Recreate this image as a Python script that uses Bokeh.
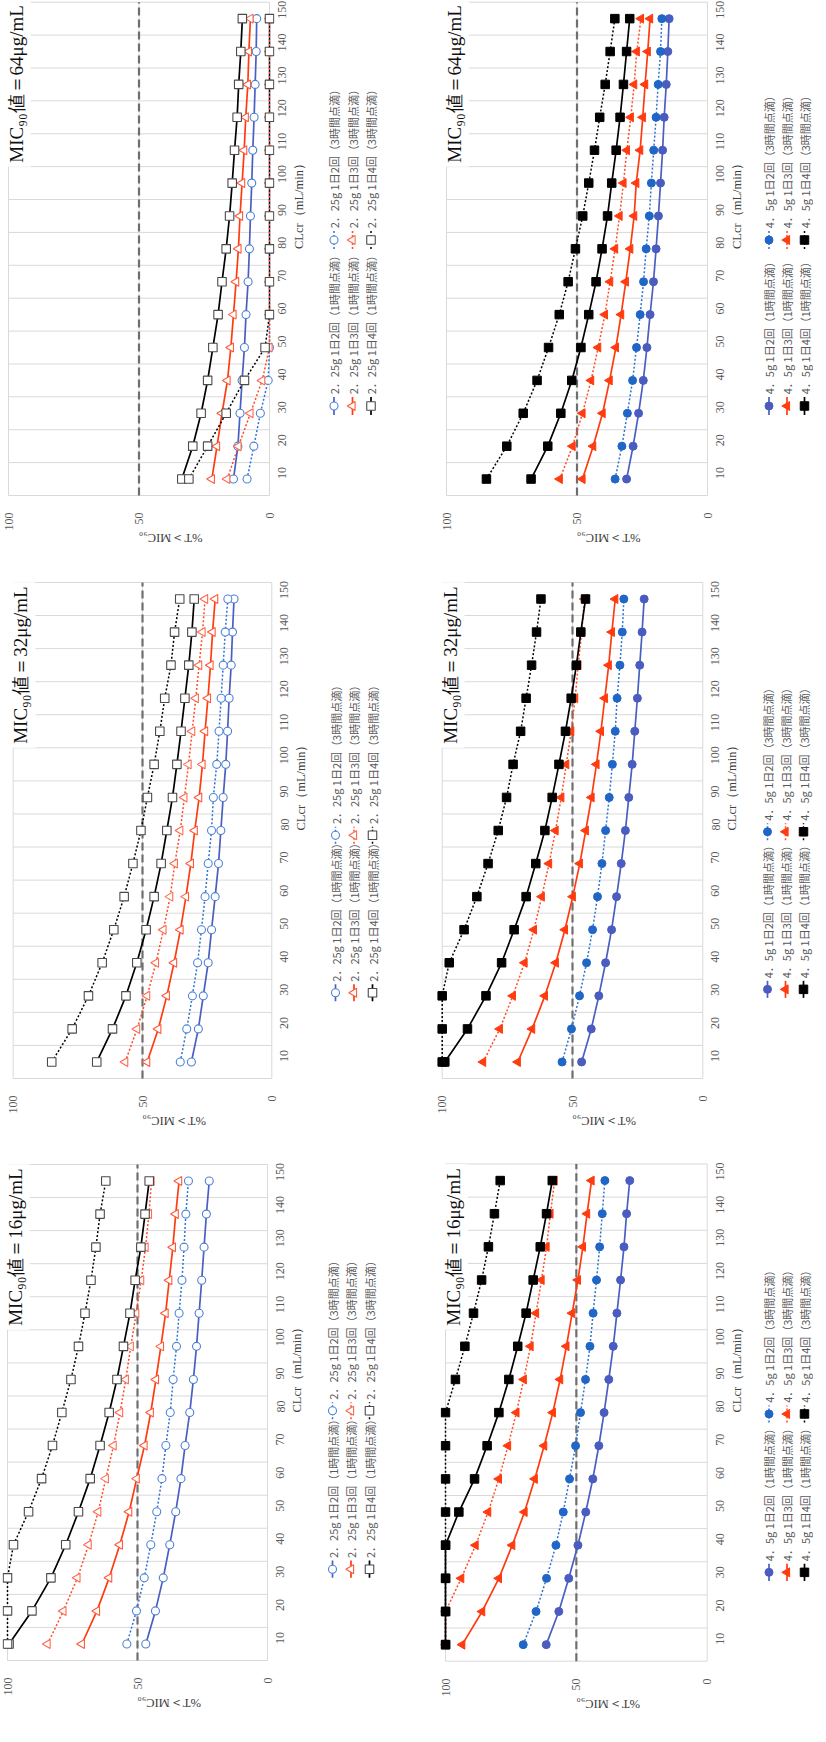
import math
from bokeh.plotting import figure
from bokeh.models import Range1d, FixedTicker, Label
from bokeh.layouts import row, column
from bokeh.core.properties import value
from bokeh.embed import file_html
from bokeh.resources import INLINE

# ---------------- data ----------------
clcr = [10, 20, 30, 40, 50, 60, 70, 80, 90, 100, 110, 120, 130, 140, 150]
clcr_edges = [5, 15, 25, 35, 45, 55, 65, 75, 85, 95, 105, 115, 125, 135, 145, 155]
pct_ticks = [0, 50, 100]
target_pct = 50

# MIC90 = 64 ug/mL, 2.25 g
mic64_225_bid_1h = [13.8, 12.1, 11.3, 10.5, 9.6, 9.0, 8.2, 7.7, 7.3, 6.8, 6.4, 5.9, 5.5, 5.1, 4.9]
mic64_225_bid_3h = [8.6, 6.0, 3.5, 0.5, 0, 0, 0, 0, 0, 0, 0, 0, 0, 0, 0]
mic64_225_tid_1h = [22.1, 20.1, 18.2, 16.1, 14.8, 13.8, 12.8, 11.9, 11.3, 10.5, 9.7, 9.1, 8.3, 7.9, 7.3]
mic64_225_tid_3h = [16.2, 11.9, 7.3, 2.8, 0, 0, 0, 0, 0, 0, 0, 0, 0, 0, 0]
mic64_225_qid_1h = [33.6, 29.4, 26.2, 23.7, 21.7, 19.7, 18.2, 16.6, 15.3, 14.3, 13.4, 12.4, 11.8, 11.0, 10.4]
mic64_225_qid_3h = [30.9, 23.7, 16.6, 9.6, 1.7, 0, 0, 0, 0, 0, 0, 0, 0, 0, 0]

# MIC90 = 64 ug/mL, 4.5 g
mic64_45_bid_1h = [31.0, 28.5, 26.4, 24.6, 23.2, 22.0, 20.7, 19.7, 18.8, 18.0, 17.2, 16.6, 15.8, 15.2, 14.7]
mic64_45_bid_3h = [35.4, 32.8, 30.7, 28.7, 27.2, 25.8, 24.5, 23.5, 22.3, 21.5, 20.6, 19.7, 18.9, 18.0, 17.5]
mic64_45_tid_1h = [47.9, 43.8, 40.2, 37.5, 35.1, 33.1, 31.3, 29.6, 28.1, 27.3, 25.8, 24.8, 23.9, 22.9, 22.0]
mic64_45_tid_3h = [56.6, 51.7, 47.9, 44.6, 41.9, 39.3, 37.3, 35.4, 33.7, 32.2, 30.9, 29.4, 28.1, 27.1, 25.5]
mic64_45_qid_1h = [67.6, 61.2, 56.2, 52.0, 48.5, 45.5, 42.7, 40.4, 38.3, 36.7, 35.0, 33.5, 32.2, 31.0, 29.8]
mic64_45_qid_3h = [84.7, 76.9, 70.6, 65.3, 60.9, 56.8, 53.4, 50.6, 47.8, 45.5, 43.3, 41.3, 39.2, 37.3, 35.5]

# MIC90 = 32 ug/mL, 2.25 g
mic32_225_bid_1h = [31.1, 28.4, 26.5, 24.6, 23.3, 21.9, 20.6, 19.7, 18.8, 17.8, 17.1, 16.5, 15.7, 15.2, 14.6]
mic32_225_bid_3h = [35.4, 32.9, 30.7, 28.7, 27.2, 25.8, 24.6, 23.3, 22.6, 21.3, 20.4, 19.6, 18.8, 18.0, 17.0]
mic32_225_tid_1h = [48.2, 43.9, 40.6, 37.8, 35.3, 33.2, 31.3, 29.8, 28.1, 26.8, 25.8, 24.7, 23.7, 22.9, 21.9]
mic32_225_tid_3h = [56.7, 52.1, 48.2, 44.8, 41.9, 39.3, 37.5, 35.4, 33.8, 32.2, 30.8, 29.4, 28.1, 26.8, 25.8]
mic32_225_qid_1h = [67.7, 61.6, 56.4, 52.2, 48.6, 45.5, 42.8, 40.6, 38.4, 36.7, 35.1, 33.6, 32.1, 30.9, 30.0]
mic32_225_qid_3h = [85.1, 77.2, 70.9, 65.6, 61.1, 57.1, 53.7, 50.6, 48.1, 45.5, 43.3, 41.4, 39.0, 37.6, 35.6]

# MIC90 = 32 ug/mL, 4.5 g
mic32_45_bid_1h = [46.5, 42.8, 39.9, 37.3, 35.0, 33.1, 31.3, 29.7, 28.4, 27.1, 26.1, 25.1, 24.2, 23.3, 22.5]
mic32_45_bid_3h = [54.0, 50.4, 47.3, 44.6, 42.3, 40.4, 38.7, 37.3, 35.9, 34.7, 33.6, 32.9, 31.8, 30.9, 30.3]
mic32_45_tid_1h = [71.0, 65.5, 60.6, 56.4, 52.9, 49.9, 47.2, 44.9, 42.7, 40.8, 39.1, 37.6, 36.1, 34.9, 33.6]
mic32_45_tid_3h = [84.3, 77.9, 72.9, 68.4, 64.8, 61.8, 59.0, 56.5, 54.3, 52.4, 50.5, 49.0, 47.8, 46.5, 45.4]
mic32_45_qid_1h = [99.0, 90.3, 83.2, 77.2, 72.4, 67.8, 64.1, 60.6, 57.8, 55.2, 52.7, 50.5, 48.5, 46.8, 45.0]
mic32_45_qid_3h = [100, 100, 100, 97.3, 91.6, 86.7, 82.4, 78.5, 75.3, 72.8, 69.9, 67.8, 65.7, 63.8, 62.1]

# MIC90 = 16 ug/mL, 2.25 g
mic16_225_bid_1h = [46.8, 43.1, 40.1, 37.6, 35.3, 33.3, 31.7, 29.9, 28.5, 27.3, 26.3, 25.3, 24.4, 23.5, 22.4]
mic16_225_bid_3h = [54.1, 50.4, 47.4, 44.9, 42.6, 40.6, 39.1, 37.4, 36.3, 35.0, 34.0, 32.9, 32.1, 31.4, 30.4]
mic16_225_tid_1h = [71.4, 65.6, 60.9, 56.8, 53.2, 50.3, 47.3, 44.9, 42.9, 41.0, 39.2, 37.8, 36.4, 35.3, 34.0]
mic16_225_tid_3h = [84.6, 78.5, 73.1, 68.8, 65.1, 62.2, 59.2, 56.7, 54.5, 52.6, 50.5, 48.6, 46.9, 45.6, 44.6]
mic16_225_qid_1h = [99.4, 90.6, 83.3, 77.6, 72.7, 68.2, 64.4, 60.9, 57.9, 55.4, 52.9, 50.9, 48.7, 47.1, 45.5]
mic16_225_qid_3h = [100, 100, 100, 97.7, 91.9, 86.9, 82.7, 79.1, 75.6, 72.7, 70.2, 67.9, 66.0, 64.4, 62.2]

# MIC90 = 16 ug/mL, 4.5 g
mic16_45_bid_1h = [61.5, 56.7, 52.9, 49.4, 46.4, 43.7, 41.4, 39.4, 37.6, 35.9, 34.5, 33.1, 31.8, 30.8, 29.6]
mic16_45_bid_3h = [70.3, 65.4, 61.4, 57.8, 55.0, 52.6, 50.3, 48.4, 46.5, 44.8, 43.6, 42.3, 41.1, 40.1, 39.1]
mic16_45_tid_1h = [93.6, 86.0, 79.6, 74.5, 69.8, 65.9, 62.3, 59.0, 56.2, 53.8, 51.6, 49.4, 47.5, 45.9, 44.2]
mic16_45_tid_3h = [100, 100, 94.0, 88.5, 83.7, 79.6, 76.1, 72.9, 70.1, 67.5, 65.4, 63.3, 61.4, 59.9, 58.3]
mic16_45_qid_1h = [100, 100, 100, 100, 94.9, 88.9, 84.1, 79.6, 75.8, 72.4, 69.2, 66.5, 63.8, 61.4, 59.2]
mic16_45_qid_3h = [100, 100, 100, 100, 100, 100, 100, 100, 96.2, 92.6, 89.3, 86.2, 83.6, 81.3, 79.1]

# ---------------- styles ----------------
SERIF = "Liberation Serif"
CJK = "Noto Sans CJK JP"
GRID = "#d9d9d9"
TICK_GRAY = "#595959"

SERIES_ORDER = ["bid_1h", "bid_3h", "tid_1h", "tid_3h", "qid_1h", "qid_3h"]
STYLE = {
    "bid_1h": dict(line="#4a5fc1", dash="solid", marker="circle", fill="#4a5cc0", hline="#4f7fd3", size=8, angle=0),
    "bid_3h": dict(line="#2e72d2", dash="2 2", marker="circle", fill="#1f66c6", hline="#4f86d8", size=8, angle=0),
    "tid_1h": dict(line="#ff3b0f", dash="solid", marker="triangle", fill="#ff3b0f", hline="#ff5a3a", size=9, angle=math.pi / 2),
    "tid_3h": dict(line="#ff4b28", dash="2 2", marker="triangle", fill="#ff3b0f", hline="#ff6a50", size=9, angle=math.pi / 2),
    "qid_1h": dict(line="#000000", dash="solid", marker="square", fill="#000000", hline="#4a4a4a", size=8.5, angle=0),
    "qid_3h": dict(line="#000000", dash="2 2", marker="square", fill="#000000", hline="#4a4a4a", size=8.5, angle=0),
}
TIMES = {"bid": "2", "tid": "3", "qid": "4"}
HOURS = {"1h": "1", "3h": "3"}

PANELS = [
    dict(mic=64, dose="2．25g", hollow=True, pa=(16, 277, 9.7, 504), cols=(341.5, 360, 378.5),
         data=dict(bid_1h=mic64_225_bid_1h, bid_3h=mic64_225_bid_3h, tid_1h=mic64_225_tid_1h,
                   tid_3h=mic64_225_tid_3h, qid_1h=mic64_225_qid_1h, qid_3h=mic64_225_qid_3h)),
    dict(mic=64, dose="4．5g", hollow=False, pa=(454, 715, 9.7, 504), cols=(776.5, 794.5, 812),
         data=dict(bid_1h=mic64_45_bid_1h, bid_3h=mic64_45_bid_3h, tid_1h=mic64_45_tid_1h,
                   tid_3h=mic64_45_tid_3h, qid_1h=mic64_45_qid_1h, qid_3h=mic64_45_qid_3h)),
    dict(mic=32, dose="2．25g", hollow=True, pa=(20.7, 279.3, 590, 1090), cols=(343, 361.5, 380),
         data=dict(bid_1h=mic32_225_bid_1h, bid_3h=mic32_225_bid_3h, tid_1h=mic32_225_tid_1h,
                   tid_3h=mic32_225_tid_3h, qid_1h=mic32_225_qid_1h, qid_3h=mic32_225_qid_3h)),
    dict(mic=32, dose="4．5g", hollow=False, pa=(449.7, 710.3, 586, 1086), cols=(775, 793, 811),
         data=dict(bid_1h=mic32_45_bid_1h, bid_3h=mic32_45_bid_3h, tid_1h=mic32_45_tid_1h,
                   tid_3h=mic32_45_tid_3h, qid_1h=mic32_45_qid_1h, qid_3h=mic32_45_qid_3h)),
    dict(mic=16, dose="2．25g", hollow=True, pa=(15, 275, 1167, 1668), cols=(340, 358.5, 377),
         data=dict(bid_1h=mic16_225_bid_1h, bid_3h=mic16_225_bid_3h, tid_1h=mic16_225_tid_1h,
                   tid_3h=mic16_225_tid_3h, qid_1h=mic16_225_qid_1h, qid_3h=mic16_225_qid_3h)),
    dict(mic=16, dose="4．5g", hollow=False, pa=(453, 714.7, 1171.5, 1671.7), cols=(776.5, 794.5, 812),
         data=dict(bid_1h=mic16_45_bid_1h, bid_3h=mic16_45_bid_3h, tid_1h=mic16_45_tid_1h,
                   tid_3h=mic16_45_tid_3h, qid_1h=mic16_45_qid_1h, qid_3h=mic16_45_qid_3h)),
]

ROWS = [(8, 562), (562, 1149), (1149, 1733)]
PAGE_LEFT, PAGE_RIGHT = 8, 821


def marker_kwargs(st, hollow):
    if hollow:
        return dict(fill_color="white", line_color=st["hline"], line_width=1.1)
    return dict(fill_color=st["fill"], line_color=st["fill"], line_width=1)


def build_main(spec, fig_left, fig_right, row_top, row_bottom):
    x0, x1, y0, y1 = spec["pa"]
    ux = (x1 - x0) / 100.0
    uy = (y1 - y0) / 150.0
    fl = int(round(x0 - 2 * ux))
    fr = int(round(x1 + 2 * ux))
    ft = max(row_top, int(round(y0 - 0.5 * uy)))
    fb = int(round(y1 + 0.5 * uy))
    xr = Range1d(100 + (x0 - fl) / ux, -(fr - x1) / ux)
    yr = Range1d(5 - (fb - y1) / uy, 155 + (y0 - ft) / uy)
    p = figure(width=fig_right - fig_left, height=row_bottom - row_top, x_range=xr, y_range=yr,
               output_backend="svg", toolbar_location=None, y_axis_location="right", title=None,
               min_border_left=fl - fig_left, min_border_right=fig_right - fr,
               min_border_top=ft - row_top, min_border_bottom=row_bottom - fb)
    p.outline_line_color = None
    p.xgrid.visible = False
    p.ygrid.visible = False

    lo, hi = clcr_edges[0], clcr_edges[-1]
    # category grid lines (between CLcr categories) and value grid lines
    p.segment(x0=[pct_ticks[-1]] * len(clcr_edges), y0=clcr_edges,
              x1=[pct_ticks[0]] * len(clcr_edges), y1=clcr_edges, line_color=GRID, line_width=1)
    p.segment(x0=pct_ticks, y0=[lo] * len(pct_ticks), x1=pct_ticks, y1=[hi] * len(pct_ticks),
              line_color=GRID, line_width=1)
    # target line
    p.segment(x0=[target_pct], y0=[lo], x1=[target_pct], y1=[hi],
              line_color="#6e6e6e", line_width=2.2, line_dash="8 4")

    for key in SERIES_ORDER:
        st = STYLE[key]
        vals = spec["data"][key]
        p.line(vals, clcr, line_color=st["line"], line_width=1.7 if st["dash"] == "solid" else 1.5,
               line_dash=st["dash"])
        p.scatter(vals, clcr, marker=st["marker"], size=st["size"], angle=st["angle"],
                  **marker_kwargs(st, spec["hollow"]))

    xa = p.xaxis[0]
    ya = p.yaxis[0]
    for ax in (xa, ya):
        ax.axis_line_color = None
        ax.major_tick_line_color = None
        ax.minor_tick_line_color = None
        ax.major_tick_out = 0
        ax.major_tick_in = 0
        ax.minor_tick_out = 0
        ax.minor_tick_in = 0
        ax.major_label_text_font = SERIF
        ax.major_label_text_font_size = "12px"
        ax.major_label_text_color = TICK_GRAY
        ax.axis_label_text_font = SERIF
        ax.axis_label_text_font_size = "12.5px"
        ax.axis_label_text_font_style = "normal"
        ax.axis_label_text_color = "#404040"
        ax.major_label_orientation = math.pi / 2
    xa.ticker = FixedTicker(ticks=pct_ticks)
    ya.ticker = FixedTicker(ticks=clcr)
    xa.major_label_standoff = int(round(y1 + 17 - fb))
    ya.major_label_standoff = int(round(x1 + 13 - fr))
    xa.axis_label = "%T＞MIC₉₀"
    ya.axis_label = "CLcr（mL/min）"
    xa.axis_label_standoff = 4
    ya.axis_label_standoff = 5
    try:
        xa.axis_label_orientation = math.pi
        ya.axis_label_orientation = math.pi / 2
    except Exception:
        xa.axis_label = None
        ya.axis_label = None
        p.add_layout(Label(x=50, y=lo - 45 / uy, text="%T＞MIC₉₀", angle=math.pi,
                           text_align="center", text_baseline="middle", text_font=SERIF,
                           text_font_size="12.5px", text_color="#404040"))
        p.add_layout(Label(x=-36 / ux, y=80, text="CLcr（mL/min）", angle=math.pi / 2,
                           text_align="center", text_baseline="middle", text_font=SERIF,
                           text_font_size="12.5px", text_color="#404040"))

    title = Label(x=97, y=105, text="MIC₉₀値＝%dμg/mL" % spec["mic"], angle=math.pi / 2,
                  text_align="left", text_baseline="middle", text_font=SERIF,
                  text_font_size="19px", text_color="#111111", background_fill_color="white")
    try:
        title.padding = 4
    except Exception:
        pass
    p.add_layout(title)
    return p


def build_legend(spec, x_left, x_right, row_top, row_bottom):
    lf = figure(width=x_right - x_left, height=row_bottom - row_top,
                x_range=Range1d(x_left, x_right), y_range=Range1d(-row_bottom, -row_top),
                x_axis_type=None, y_axis_type=None, output_backend="svg", toolbar_location=None,
                title=None, min_border_left=0, min_border_right=0, min_border_top=0, min_border_bottom=0)
    lf.outline_line_color = None
    y1 = spec["pa"][3]
    for k, reg in enumerate(["bid", "tid", "qid"]):
        xc = spec["cols"][k]
        for j, inf in enumerate(["1h", "3h"]):
            key = "%s_%s" % (reg, inf)
            st = STYLE[key]
            ym = y1 - (44 if j == 0 else 229)
            lf.segment(x0=[xc], y0=[-(ym + 10)], x1=[xc], y1=[-(ym - 10)], line_color=st["line"],
                       line_width=1.7 if st["dash"] == "solid" else 1.5, line_dash=st["dash"])
            lf.scatter([xc], [-ym], marker=st["marker"], size=st["size"], angle=st["angle"],
                       **marker_kwargs(st, spec["hollow"]))
            label = "%s 1日%s回（%s時間点滴）" % (spec["dose"], TIMES[reg], HOURS[inf])
            lf.text([xc], [-(ym - 13)], text=[label], angle=math.pi / 2, text_align="left",
                    text_baseline="middle", text_font=value(CJK), text_font_size="11px",
                    text_color=TICK_GRAY)
    return lf


rows = []
for r, (rt, rb) in enumerate(ROWS):
    L = PANELS[2 * r]
    R = PANELS[2 * r + 1]
    mL_right = int(round(L["pa"][1] + 52))
    mR_left = int(round(R["pa"][0] - 12))
    mR_right = int(round(R["pa"][1] + 52))
    children = [
        build_main(L, PAGE_LEFT, mL_right, rt, rb),
        build_legend(L, mL_right, mR_left, rt, rb),
        build_main(R, mR_left, mR_right, rt, rb),
        build_legend(R, mR_right, PAGE_RIGHT, rt, rb),
    ]
    rows.append(row(*children))

layout = column(*rows)
open("out.html", "w").write(file_html(layout, INLINE, title="%T>MIC90"))
